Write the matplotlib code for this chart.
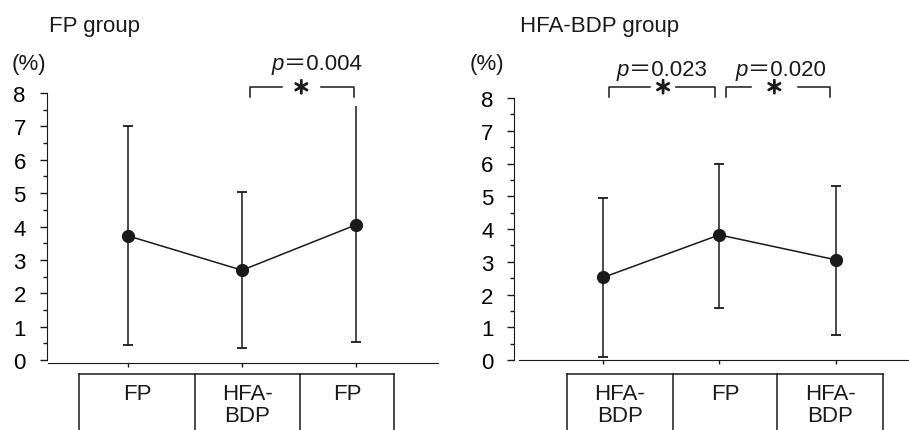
import numpy as np
import matplotlib
matplotlib.use('Agg')
import matplotlib.pyplot as plt
import matplotlib.patheffects as pe

plt.rcParams['font.family'] = ['Liberation Sans', 'Noto Sans CJK JP', 'DejaVu Sans']

# FP group (left panel)
left_title = 'FP group'
left_cats = ['FP', 'HFA-\nBDP', 'FP']
left_means = [3.72, 2.69, 4.05]
left_upper = [7.00, 5.02, 7.61]
left_lower = [0.46, 0.37, 0.55]
left_pvals = ['0.004']

# HFA-BDP group (right panel)
right_title = 'HFA-BDP group'
right_cats = ['HFA-\nBDP', 'FP', 'HFA-\nBDP']
right_means = [2.52, 3.82, 3.06]
right_upper = [4.94, 5.99, 5.31]
right_lower = [0.08, 1.60, 0.77]
right_pvals = ['0.023', '0.020']

INK = '#1a1a1a'
FS = 16


def draw_panel(ax, means, upper, lower, cats, xlim, spine_out, spine_bounds,
               cell_edges, cap_top):
    x = np.arange(len(means))
    ax.set_xlim(*xlim)
    ax.set_ylim(0, 8)
    for s in ['top', 'right']:
        ax.spines[s].set_visible(False)
    ax.spines['left'].set_color(INK)
    ax.spines['bottom'].set_color(INK)
    ax.spines['bottom'].set_position(('outward', spine_out))
    ax.spines['bottom'].set_bounds(*spine_bounds)
    ax.set_yticks(np.arange(0, 9))
    ax.set_yticks(np.arange(0, 8.01, 0.5), minor=True)
    ax.tick_params(axis='y', which='major', length=5, width=1, color=INK,
                   labelsize=FS, pad=10)
    ax.tick_params(axis='y', which='minor', length=3, width=1, color=INK)
    ax.set_xticks(x)
    ax.set_xticklabels([])
    ax.tick_params(axis='x', length=3, width=1, color=INK)

    # error bars
    ax.vlines(x, lower, upper, color=INK, lw=1.1, clip_on=False)
    ax.plot(x, lower, ls='none', marker='_', ms=7, mew=1.3, color=INK)
    xt = [xi for xi, c in zip(x, cap_top) if c]
    ut = [u for u, c in zip(upper, cap_top) if c]
    ax.plot(xt, ut, ls='none', marker='_', ms=7, mew=1.3, color=INK)
    ax.plot(x, means, color=INK, lw=1.1, marker='o', ms=8.5, clip_on=False)

    # table of treatments below the axis
    left, right = cell_edges[0], cell_edges[-1]
    ax.plot([left, right], [-0.42, -0.42], color=INK, lw=1.1, clip_on=False)
    for e in cell_edges:
        ax.plot([e, e], [-0.42, -2.3], color=INK, lw=1.1, clip_on=False)
    for i, c in enumerate(cats):
        cx = (cell_edges[i] + cell_edges[i + 1]) / 2
        ax.text(cx, -0.70, c, ha='center', va='top', fontsize=FS,
                linespacing=1.05, color=INK)


def bracket(ax, x0, x1, y, xs, gap, pval, px, py):
    h = 0.3
    ax.plot([x0, x0, xs - gap], [y - h, y, y], color=INK, lw=1.1, clip_on=False)
    ax.plot([xs + gap, x1, x1], [y, y, y - h], color=INK, lw=1.1, clip_on=False)
    ax.text(xs, y - 0.04, '＊', ha='center', va='center', fontsize=13,
            family=['Noto Sans CJK JP'], color=INK,
            path_effects=[pe.withStroke(linewidth=1.2, foreground=INK)])
    ax.text(px, py, 'p', ha='right', va='baseline', fontsize=FS,
            style='italic', color=INK)
    ax.text(px, py, '＝' + pval, ha='left', va='baseline', fontsize=FS,
            color=INK)


fig = plt.figure(figsize=(9.09, 4.31), dpi=100)
W, H = 909.0, 431.0

ax1 = fig.add_axes([46.7 / W, 70 / H, (438 - 46.7) / W, 267 / H])
draw_panel(ax1, left_means, left_upper, left_lower, left_cats,
           (-0.713, 2.719), 2, (-0.70, 2.719),
           [-0.43, 0.588, 1.509, 2.333], [True, True, False])
bracket(ax1, 1.07, 1.98, 8.17, 1.52, 0.17, left_pvals[0], 1.37, 8.71)

ax2 = fig.add_axes([514.3 / W, 70 / H, (909 - 514.3) / W, 262 / H])
draw_panel(ax2, right_means, right_upper, right_lower, right_cats,
           (-0.763, 2.631), 0, (-0.722, 2.631),
           [-0.312, 0.599, 1.499, 2.408], [True, True, True])
bracket(ax2, 0.049, 0.963, 8.33, 0.516, 0.11, right_pvals[0], 0.225, 8.69)
bracket(ax2, 1.055, 1.954, 8.33, 1.473, 0.2, right_pvals[1], 1.25, 8.69)

fig.text(49 / W, 1 - 32 / H, left_title, ha='left', va='baseline',
         fontsize=FS, color=INK)
fig.text(520 / W, 1 - 32 / H, right_title, ha='left', va='baseline',
         fontsize=FS, color=INK)
fig.text(12 / W, 1 - 70 / H, '(%)', ha='left', va='baseline', fontsize=FS,
         color=INK)
fig.text(470 / W, 1 - 70 / H, '(%)', ha='left', va='baseline', fontsize=FS,
         color=INK)

fig.savefig('out.png', dpi=100)
